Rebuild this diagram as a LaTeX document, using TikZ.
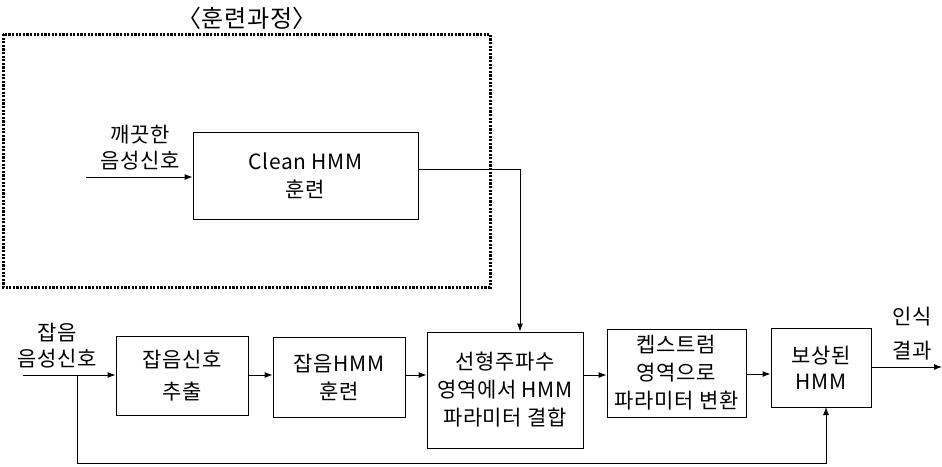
\documentclass[tikz,border=0pt]{standalone}
\usepackage{fontspec}
\setmainfont[LetterSpace=3]{Noto Sans CJK KR}
\usetikzlibrary{arrows.meta,calc}
\begin{document}
\begin{tikzpicture}[x=1pt,y=-1pt,
  box/.style={draw,line width=0.9pt,rectangle,inner sep=0pt,align=center,font=\fontsize{21}{28}\selectfont},
  lbl/.style={inner sep=0pt,align=center,font=\fontsize{21}{26}\selectfont},
  arr/.style={line width=0.9pt,-{Latex[length=8pt,width=6pt]}},
  ln/.style={line width=0.9pt}]
\useasboundingbox (0,0) rectangle (942,466);
% training region
\draw[line width=3pt,dash pattern=on 2.2pt off 1.4pt] (3,34) rectangle (490,287);
\node[lbl,font=\fontsize{24}{26}\selectfont] (title) at (247,18) {〈훈련과정〉};
% nodes
\node[box,minimum width=225pt,minimum height=87pt] (clean) at (305.5,175.5) {Clean HMM\\훈련};
\node[box,minimum width=132pt,minimum height=79pt,font=\fontsize{21}{32}\selectfont] (b1) at (182,375.5) {잡음신호\\추출};
\node[box,minimum width=132pt,minimum height=80pt] (b2) at (339,377) {잡음HMM\\훈련};
\node[box,minimum width=156pt,minimum height=116pt] (b3) at (505,390) {선형주파수\\영역에서 HMM\\파라미터 결합};
\node[box,minimum width=139pt,minimum height=88pt] (b4) at (676.5,373) {켑스트럼\\영역으로\\파라미터 변환};
\node[box,minimum width=100pt,minimum height=79pt,font=\fontsize{21}{26}\selectfont] (b5) at (821,367.5) {보상된\\HMM};
% labels
\node[lbl] (lclean) at (140,148) {깨끗한\\음성신호};
\node[lbl] (lnoise) at (57,346) {잡음\\음성신호};
\node[lbl,font=\fontsize{21}{34}\selectfont] (lout) at (912,334) {인식\\결과};
% coordinates
\coordinate (cin) at (86,177);
\coordinate (nin) at (23,375);
\coordinate (fb) at (77,375);
\coordinate (fbb) at (77,463);
\coordinate (out) at (942,367);
\coordinate (cturn) at (520,169);
% connectors
\draw[arr] (cin) -- (clean.west |- cin);
\draw[ln] (clean.east |- cturn) -- (cturn);
\draw[arr] (cturn) -- (cturn |- b3.north);
\draw[arr] (nin) -- (b1.west |- nin);
\draw[arr] (b1.east |- nin) -- (b2.west |- nin);
\draw[arr] (b2.east |- nin) -- (b3.west |- nin);
\draw[arr] (b3.east |- nin) -- (b4.west |- nin);
\draw[arr] ($(b4.east)+(0,1)$) -- ($(b5.west |- b4.east)+(0,1)$);
\draw[arr] (b5.east |- out) -- (out);
\draw[arr] (fb) -- (fbb) -- (826,463) -- (826,407);
\end{tikzpicture}
\end{document}
